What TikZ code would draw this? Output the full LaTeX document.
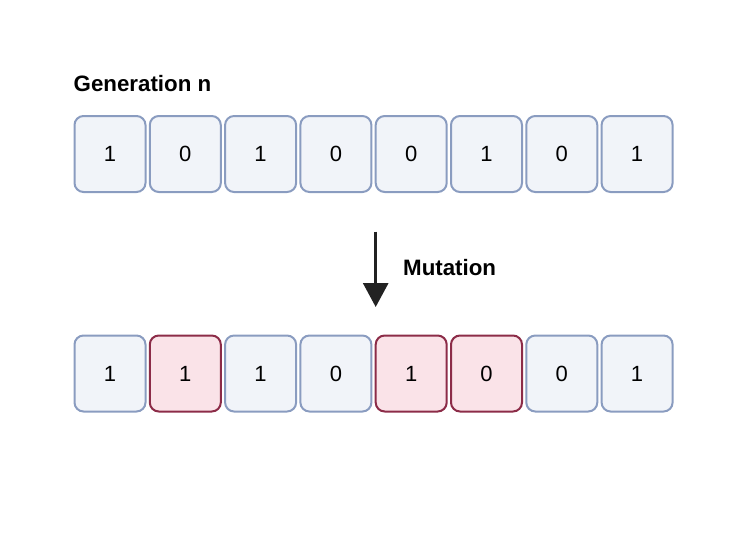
\documentclass[tikz,border=0pt]{standalone}
\usepackage{fontspec}
\setmainfont{Liberation Sans}
\usetikzlibrary{arrows.meta}
\definecolor{bfill}{HTML}{F1F4F9}
\definecolor{bdraw}{HTML}{8A9CC0}
\definecolor{pfill}{HTML}{FAE3E8}
\definecolor{pdraw}{HTML}{8C2C48}
\definecolor{arr}{HTML}{222222}
\tikzset{
  cell/.style={draw=bdraw, fill=bfill, line width=2pt, rounded corners=9pt,
    minimum width=71pt, minimum height=76pt, inner sep=0pt, font=\fontsize{22}{25}\selectfont},
  mutcell/.style={cell, draw=pdraw, fill=pfill},
  lbl/.style={font=\fontsize{22.3}{25}\selectfont\bfseries, inner sep=0pt},
  mutarrow/.style={arr, line width=3pt, -{Triangle[width=25pt,length=24pt]}}
}
\begin{document}
\begin{tikzpicture}[x=1pt,y=-1pt]
\useasboundingbox (0,0) rectangle (746,538);
\node[lbl, anchor=base west] (gen) at (73.5,91.5) {Generation n};
\foreach \v [count=\i from 0] in {1,0,1,0,0,1,0,1} {
  \node[cell] (t\i) at (110+75.3*\i,154) {\v};
}
\foreach \v/\s [count=\i from 0] in {1/cell,1/mutcell,1/cell,0/cell,1/mutcell,0/mutcell,0/cell,1/cell} {
  \node[\s] (b\i) at (110+75.3*\i,373.5) {\v};
}
\coordinate (as) at (375.7,231.5);
\coordinate (ae) at (375.7,307);
\draw[mutarrow] (as) -- (ae);
\node[lbl, anchor=base west] (mut) at (403,275) {Mutation};
\end{tikzpicture}
\end{document}
